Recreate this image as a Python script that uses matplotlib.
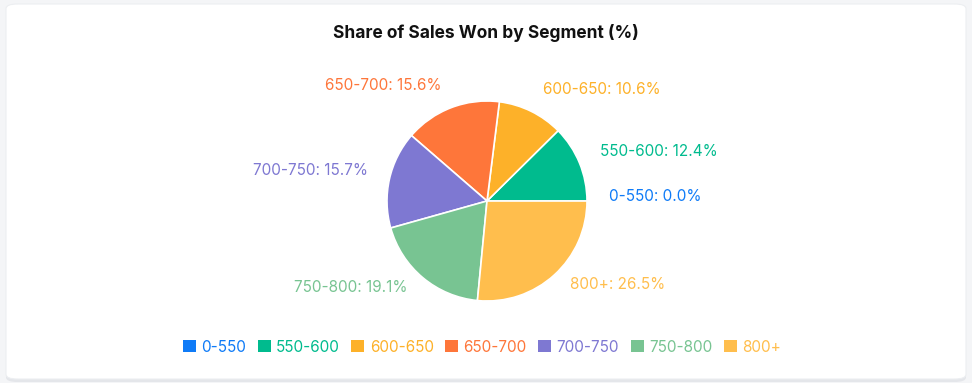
import numpy as np
import matplotlib
matplotlib.use("Agg")
import matplotlib.pyplot as plt
from matplotlib.patches import FancyBboxPatch, Patch

plt.rcParams['font.family'] = ['Inter', 'DejaVu Sans']

# data
segments = ["0-550", "550-600", "600-650", "650-700", "700-750", "750-800", "800+"]
share = [0.0, 12.4, 10.6, 15.6, 15.7, 19.1, 26.5]
colors = ["#0f7bf7", "#00bb8e", "#fdb129", "#fe763a", "#7e78d2", "#78c492", "#ffbe4d"]
title = "Share of Sales Won by Segment (%)"

W, H = 972, 383
fig = plt.figure(figsize=(W / 100, H / 100), dpi=100)
fig.patch.set_facecolor("#f4f5f7")

# card with a soft shadow
shadow = FancyBboxPatch((6 / W, 1 / H), 960 / W, 376 / H,
                        boxstyle="round,pad=0,rounding_size=0.012",
                        transform=fig.transFigure, facecolor="#e4e6ea",
                        edgecolor="none", zorder=0)
card = FancyBboxPatch((6 / W, 4 / H), 960 / W, 375 / H,
                      boxstyle="round,pad=0,rounding_size=0.012",
                      transform=fig.transFigure, facecolor="white",
                      edgecolor="#eceef1", linewidth=0.8, zorder=0)
fig.patches.extend([shadow, card])

# pie centre at (487, 201) px, radius 100 px
cx, cy, R = 487, 201, 100
ax = fig.add_axes([(cx - 300) / W, (H - cy - 150) / H, 600 / W, 300 / H])
ax.set_zorder(1)
labels = [f"{s}: {v:.1f}%" for s, v in zip(segments, share)]
wedges, texts = ax.pie(share, colors=colors, startangle=0, counterclock=True,
                       labels=labels, labeldistance=1.19,
                       wedgeprops=dict(edgecolor="white", linewidth=1.2),
                       textprops=dict(fontsize=11))
for t, c in zip(texts, colors):
    t.set_color(c)
    t.set_va("baseline")
    x, y = t.get_position()
    t.set_position((x + (0.03 if x >= 0 else -0.03), y))
ax.set_xlim(-3, 3)
ax.set_ylim(-1.5, 1.5)
ax.set_aspect("auto")
ax.axis("off")

fig.text(486 / W, 1 - 33 / H, title, ha="center", va="center",
         fontsize=12.5, fontweight="bold", color="#111111")

handles = [Patch(facecolor=c, edgecolor="none") for c in colors]
leg = fig.legend(handles, segments, loc="center", bbox_to_anchor=(482 / W, 1 - 347 / H),
                 ncol=len(segments), frameon=False, fontsize=11,
                 handlelength=0.85, handleheight=0.85, handletextpad=0.35,
                 columnspacing=0.75)
for txt, c in zip(leg.get_texts(), colors):
    txt.set_color(c)

fig.savefig("out.png", dpi=100)
